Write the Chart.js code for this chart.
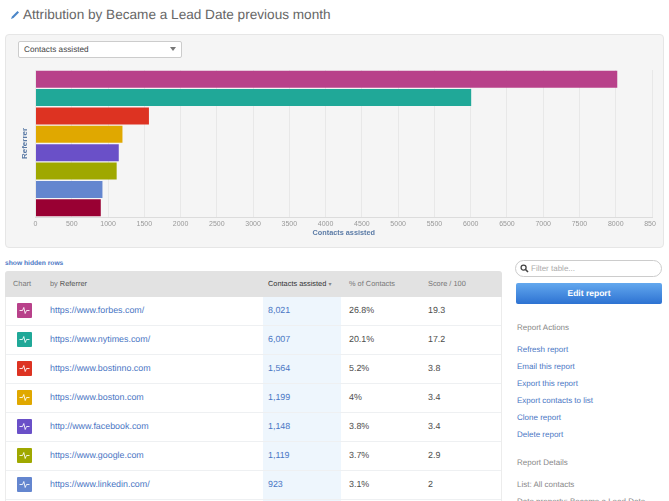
<!DOCTYPE html>
<html>
<head>
<meta charset="utf-8">
<title>Attribution by Became a Lead Date previous month</title>
<script src="https://cdn.jsdelivr.net/npm/chart.js@4.4.1/dist/chart.umd.js"></script>
<style>
html, body { margin: 0; padding: 0; background: #fff; }
body { width: 669px; height: 501px; overflow: hidden; position: relative; font-family: "Liberation Sans", Arial, sans-serif; color: #555; text-rendering: geometricPrecision; }
.abs { position: absolute; white-space: nowrap; }
#title { left: 23px; top: 5px; font-size: 13.6px; line-height: 20px; color: #666; }
#panel { left: 5px; top: 34px; width: 657px; height: 212px; background: #f5f5f5; border: 1px solid #e6e6e6; border-radius: 4px; }
#select { left: 18px; top: 41px; width: 162px; height: 15px; background: #fff; border: 1px solid #ccc; border-radius: 2px; font-size: 8.2px; line-height: 15px; color: #444; text-indent: 5px; }
#caret { left: 170px; top: 47px; width: 0; height: 0; border-left: 3.5px solid transparent; border-right: 3.5px solid transparent; border-top: 4px solid #777; }
#chartWrap { left: 5px; top: 60px; width: 651px; height: 180px; overflow: hidden; }
#hidden { left: 5px; top: 259px; font-size: 6.7px; line-height: 10px; font-weight: bold; color: #4a76c4; }
#tableHead { left: 5px; top: 271px; width: 497px; height: 26px; background: #e2e2e2; border-radius: 3px 3px 0 0; }
#tableBody { left: 5px; top: 297px; width: 495px; height: 210px; border-left: 1px solid #ececec; border-right: 1px solid #ececec; }
#sortCol { left: 263px; top: 297px; width: 78px; height: 210px; background: #eef6fd; }
.th { font-size: 7.4px; line-height: 25px; top: 271px; color: #777; }
.rowLine { left: 6px; width: 495px; height: 1px; background: #eef0f2; }
.cell { font-size: 8.9px; line-height: 14px; color: #4d4d4d; }
.cell.link { color: #4a76c4; }
.chip { left: 17px; width: 15px; height: 15px; border-radius: 1px; }
#filter { left: 515px; top: 260px; width: 145px; height: 15px; border: 1px solid #ccc; border-radius: 9px; font-size: 8px; line-height: 15px; color: #aaa; text-indent: 15px; background: #fff; }
#button { left: 516px; top: 283px; width: 146px; height: 21px; border-radius: 2px; background: linear-gradient(#63a8ee, #2d72d2); color: #fff; font-size: 8.5px; font-weight: bold; line-height: 21px; text-align: center; }
.side { left: 517px; font-size: 8px; line-height: 12px; }
</style>
</head>
<body>
<svg class="abs" style="left:10px;top:10px" width="10" height="10" viewBox="0 0 10 10"><path d="M1 9 L2 6.5 L7.5 1 L9 2.5 L3.5 8 Z" fill="#4a86c8"/></svg>
<div class="abs" id="title">Attribution by Became a Lead Date previous month</div>

<div class="abs" id="panel"></div>
<div class="abs" id="select">Contacts assisted</div>
<div class="abs" id="caret"></div>
<div class="abs" id="chartWrap"><canvas id="myBarChart" width="700" height="180"></canvas></div>

<div class="abs" id="hidden">show hidden rows</div>
<div class="abs" id="tableHead"></div>
<div class="abs" id="tableBody"></div>
<div class="abs" id="sortCol"></div>
<div class="abs th" style="left:13px">Chart</div>
<div class="abs th" style="left:50px">by <span style="color:#555">Referrer</span></div>
<div class="abs th" style="left:268px;color:#333">Contacts assisted <span style="font-size:6px;color:#888">&#9662;</span></div>
<div class="abs th" style="left:349px">% of Contacts</div>
<div class="abs th" style="left:428px">Score / 100</div>
<div id="rows"></div>

<div class="abs" id="filter">Filter table...</div>
<svg class="abs" style="left:520px;top:264px" width="9" height="9" viewBox="0 0 9 9"><circle cx="3.6" cy="3.6" r="2.5" fill="none" stroke="#444" stroke-width="1.3"/><path d="M5.5 5.5 L8 8" stroke="#444" stroke-width="1.6"/></svg>
<div class="abs" id="button">Edit report</div>
<div id="sidebar"></div>

<script>
// Chart values
const referrers = ['https://www.forbes.com/', 'https://www.nytimes.com/', 'https://www.bostinno.com', 'https://www.boston.com', 'http://www.facebook.com', 'https://www.google.com', 'https://www.linkedin.com/', '(row below the fold)'];
const contacts = [8021, 6007, 1564, 1199, 1148, 1119, 923, 900];
const colors = ['#b8418a', '#20a898', '#dd3322', '#e0a800', '#6a50c8', '#9fa800', '#6486cf', '#990033'];

// Table columns, only the first seven rows are visible
const percents = ['26.8%', '20.1%', '5.2%', '4%', '3.8%', '3.7%', '3.1%'];
const scores = ['19.3', '17.2', '3.8', '3.4', '3.4', '2.9', '2'];

const actions = ['Refresh report', 'Email this report', 'Export this report', 'Export contacts to list', 'Clone report', 'Delete report'];
const details = ['List: All contacts', 'Date property: Became a Lead Date'];

// Build table rows
const rows = document.getElementById('rows');
function addCell(className, left, top, text) {
    const el = document.createElement('div');
    el.className = 'abs ' + className;
    el.style.left = left + 'px';
    el.style.top = top + 'px';
    el.textContent = text;
    rows.appendChild(el);
}
percents.forEach((percent, i) => {
    const top = 297 + i * 29;
    const chip = document.createElement('div');
    chip.className = 'abs chip';
    chip.style.top = (top + 6) + 'px';
    chip.style.background = colors[i];
    chip.innerHTML = '<svg width="15" height="15" viewBox="0 0 15 15"><path d="M2.5 7.5 H5.5 L6.8 4.5 L8.2 10.5 L9.5 7.5 H12.5" fill="none" stroke="#fff" stroke-width="1" opacity=".85"/></svg>';
    rows.appendChild(chip);
    addCell('cell link', 50, top + 6, referrers[i]);
    addCell('cell link', 268, top + 6, contacts[i].toLocaleString('en-US'));
    addCell('cell', 349, top + 6, percent);
    addCell('cell', 428, top + 6, scores[i]);
    const line = document.createElement('div');
    line.className = 'abs rowLine';
    line.style.top = (top + 28) + 'px';
    rows.appendChild(line);
});

// Build sidebar
const sidebar = document.getElementById('sidebar');
function addSide(text, top, color) {
    const el = document.createElement('div');
    el.className = 'abs side';
    el.style.top = top + 'px';
    el.style.color = color;
    el.textContent = text;
    sidebar.appendChild(el);
}
addSide('Report Actions', 322, '#888');
actions.forEach((text, i) => addSide(text, 344 + i * 17, '#4a76c4'));
addSide('Report Details', 457, '#888');
details.forEach((text, i) => addSide(text, 479 + i * 17, '#888'));

// Bar chart
new Chart(document.getElementById('myBarChart').getContext('2d'), {
    type: 'bar',
    data: {
        labels: referrers,
        datasets: [{
            data: contacts,
            backgroundColor: colors,
            barPercentage: 0.92,
            categoryPercentage: 1
        }]
    },
    options: {
        indexAxis: 'y',
        responsive: false,
        animation: false,
        layout: { padding: { left: 0, right: 53, top: 10, bottom: 0 } },
        plugins: { legend: { display: false }, tooltip: { enabled: false } },
        scales: {
            x: {
                min: 0,
                max: 8500,
                afterFit: scale => { scale.height = 23; },
                grid: { color: '#e8e8e8', drawTicks: false },
                border: { color: '#dcdcdc' },
                ticks: {
                    stepSize: 500,
                    autoSkip: false,
                    maxRotation: 0,
                    padding: 3,
                    color: '#999',
                    font: { family: '"Liberation Sans"', size: 7 },
                    callback: value => String(value)
                },
                title: {
                    display: true,
                    text: 'Contacts assisted',
                    color: '#5b7ba6',
                    font: { family: '"Liberation Sans"', size: 7.3, weight: 'bold' },
                    padding: { top: 0, bottom: 2.5 }
                }
            },
            y: {
                afterFit: scale => { scale.width = 30.5; },
                grid: { display: false },
                border: { display: false },
                ticks: { display: false },
                title: {
                    display: true,
                    text: 'Referrer',
                    color: '#5b7ba6',
                    font: { family: '"Liberation Sans"', size: 8, weight: 'bold' },
                    padding: { top: 15, bottom: 0 }
                }
            }
        }
    }
});
</script>
</body>
</html>
